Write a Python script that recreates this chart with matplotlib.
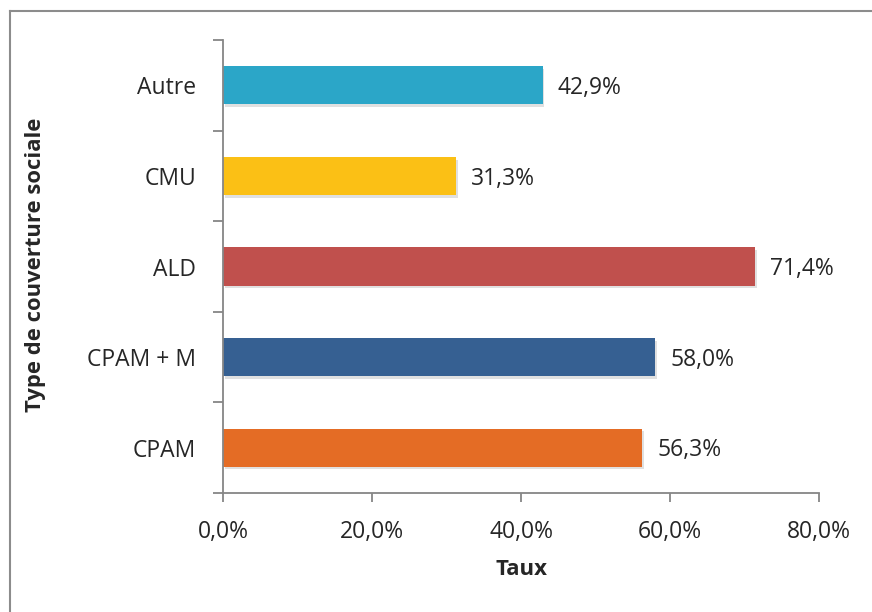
import matplotlib.pyplot as plt
from matplotlib.lines import Line2D
from matplotlib.ticker import FixedLocator, FuncFormatter

categories = ['CPAM', 'CPAM + M', 'ALD', 'CMU', 'Autre']
taux = [56.3, 58.0, 71.4, 31.3, 42.9]
colors = ['#E46C25', '#366092', '#C0504D', '#FBC015', '#2BA6C8']
xticks = [0, 20, 40, 60, 80]

plt.rcParams['font.family'] = ['Open Sans', 'DejaVu Sans']
axis_grey = '#868686'
text_col = '#262626'
fs = 16.5

fig = plt.figure(figsize=(8.72, 6.12), dpi=100)
ax = fig.add_axes([223 / 872, 1 - 493 / 612, (819 - 223) / 872, (493 - 40) / 612])

y = range(len(categories))
# soft shadow under each bar
ax.barh([v - 0.03 for v in y], taux, height=0.42, color='#000000', alpha=0.12,
        left=0.25, zorder=1)
bars = ax.barh(y, taux, height=0.42, color=colors, zorder=2)

for rect, val in zip(bars, taux):
    ax.text(rect.get_width() + 2.0, rect.get_y() + rect.get_height() / 2 - 0.03,
            f'{val:.1f}%'.replace('.', ','), va='center', ha='left',
            fontsize=fs, color=text_col)

ax.set_xlim(0, 80)
ax.set_ylim(-0.5, len(categories) - 0.5)
ax.set_xticks(xticks)
ax.xaxis.set_major_formatter(FuncFormatter(lambda v, p: f'{v:.1f}%'.replace('.', ',')))
ax.set_yticks(list(y))
ax.set_yticklabels(categories)
ax.yaxis.set_minor_locator(FixedLocator([i - 0.5 for i in range(len(categories) + 1)]))

ax.tick_params(axis='y', which='major', length=0, pad=19.5, labelsize=fs, labelcolor=text_col)
ax.tick_params(axis='y', which='minor', length=7, width=1.3, color=axis_grey, direction='out')
ax.tick_params(axis='x', which='major', length=6.5, width=1.3, color=axis_grey, direction='out',
               pad=13, labelsize=fs, labelcolor=text_col)

for side in ['top', 'right']:
    ax.spines[side].set_visible(False)
for side in ['left', 'bottom']:
    ax.spines[side].set_color(axis_grey)
    ax.spines[side].set_linewidth(1.3)

ax.set_xlabel('Taux', fontsize=16, fontweight='bold', color=text_col, labelpad=11)
fig.text(35 / 872, 1 - 265 / 612, 'Type de couverture sociale', rotation=90,
         ha='center', va='center', fontsize=15.8, fontweight='bold', color=text_col)

# chart area border (top and left edges visible)
fig.add_artist(Line2D([9.5 / 872, 1.0], [1 - 10.5 / 612] * 2, color='#8c8c8c', lw=1.5))
fig.add_artist(Line2D([9.5 / 872] * 2, [0.0, 1 - 10.5 / 612], color='#8c8c8c', lw=1.5))

fig.savefig('out.png', dpi=100)
